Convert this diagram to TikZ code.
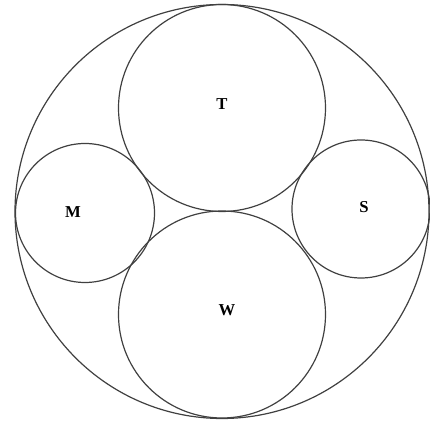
\documentclass[tikz,border=0pt]{standalone}
\usepackage{fontspec}
\setmainfont{Liberation Serif}
\usepackage{tikz}

\begin{document}
\begin{tikzpicture}[
  x=0.75pt, y=-0.75pt,
  ring/.style = {draw=black!75, line width=0.9pt},
  lbl/.style = {font=\fontsize{12.5}{14}\selectfont\bfseries, inner sep=0pt},
]
\useasboundingbox (0,0) rectangle (430,423);

\draw[ring] (222,211.5) circle[radius=207];

\coordinate (Tc) at (222,108);
\coordinate (Wc) at (222,314.5);
\coordinate (Mc) at (85,213);
\coordinate (Sc) at (361,209);

\draw[ring] (Tc) circle[radius=103.5];
\draw[ring] (Wc) circle[radius=103.5];
\draw[ring] (Mc) circle[radius=69.5];
\draw[ring] (Sc) circle[radius=69];

\node[lbl] (T) at (222,104) {T};
\node[lbl] (W) at (227,310) {W};
\node[lbl] (M) at (73,212) {M};
\node[lbl] (S) at (364,207) {S};

\end{tikzpicture}
\end{document}
